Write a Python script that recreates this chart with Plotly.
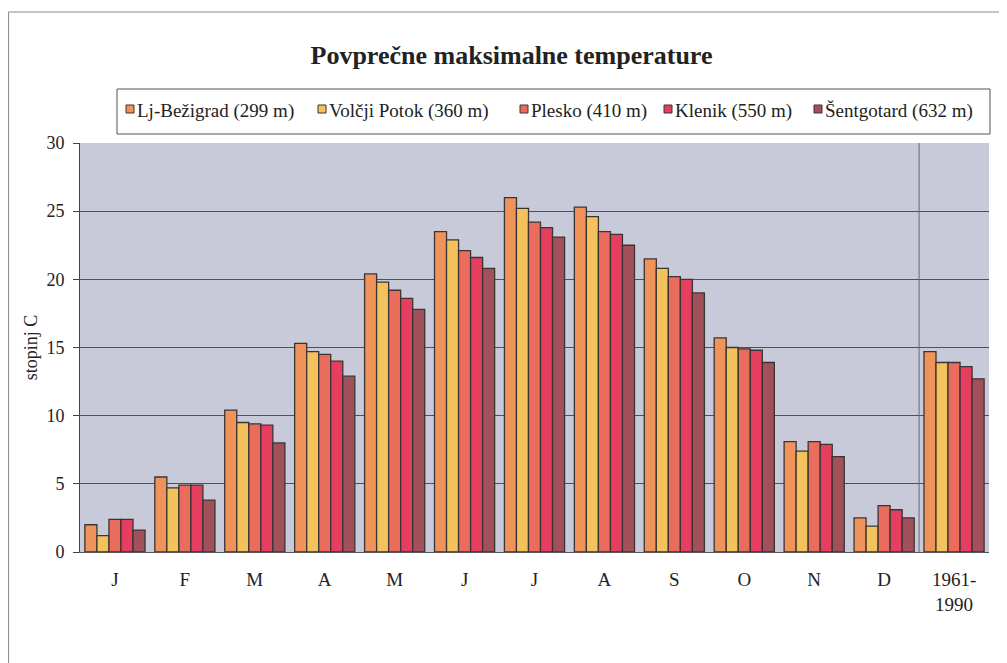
import plotly.graph_objects as go

months = ["J", "F", "M", "A", "M ", "J ", "J  ", "A ", "S", "O", "N", "D", "1961-1990"]
month_labels = ["J", "F", "M", "A", "M", "J", "J", "A", "S", "O", "N", "D", "1961-<br>1990"]

stations = [
    "Lj-Bežigrad (299 m)",
    "Volčji Potok (360 m)",
    "Plesko (410 m)",
    "Klenik (550 m)",
    "Šentgotard (632 m)",
]

lj_bezigrad = [2.0, 5.5, 10.4, 15.3, 20.4, 23.5, 26.0, 25.3, 21.5, 15.7, 8.1, 2.5, 14.7]
volcji_potok = [1.2, 4.7, 9.5, 14.7, 19.8, 22.9, 25.2, 24.6, 20.8, 15.0, 7.4, 1.9, 13.9]
plesko = [2.4, 4.9, 9.4, 14.5, 19.2, 22.1, 24.2, 23.5, 20.2, 14.9, 8.1, 3.4, 13.9]
klenik = [2.4, 4.9, 9.3, 14.0, 18.6, 21.6, 23.8, 23.3, 20.0, 14.8, 7.9, 3.1, 13.6]
sentgotard = [1.6, 3.8, 8.0, 12.9, 17.8, 20.8, 23.1, 22.5, 19.0, 13.9, 7.0, 2.5, 12.7]

series = [lj_bezigrad, volcji_potok, plesko, klenik, sentgotard]
colors = ["#F0935A", "#F3C25C", "#E96C5C", "#E63E5E", "#A2505A"]

serif = "Liberation Serif, Times New Roman, serif"
outline = "#3a3434"

# plot area in figure pixels (page adds 8px body margin)
ML, MR, MT, MB = 72, 26, 135, 119
W, H = 1007, 663
PW, PH = W - ML - MR, H - MT - MB


def px(x):  # screen x -> paper
    return (x - 8 - ML) / PW


def py(y):  # screen y -> paper
    return (H - MB + 8 - y) / PH


fig = go.Figure()
for name, vals, col in zip(stations, series, colors):
    fig.add_trace(go.Bar(
        x=months, y=vals, name=name, showlegend=False,
        marker=dict(color=col, line=dict(color=outline, width=1.3)),
    ))

shapes = [
    # separator between months and the 1961-1990 average
    dict(type="line", xref="x", yref="y", x0=11.5, x1=11.5, y0=-0.7, y1=30,
         line=dict(color="#6a6a78", width=1)),
    # outer frame
    dict(type="rect", xref="paper", yref="paper", x0=-0.0786, x1=1.06, y0=-0.4, y1=py(12),
         line=dict(color="#8a8a8a", width=1), layer="below"),
    # legend box
    dict(type="rect", xref="paper", yref="paper", x0=px(117), x1=px(990), y0=py(134), y1=py(89),
         line=dict(color="#555555", width=1), fillcolor="white"),
]
annotations = []

# hand-drawn legend, Excel style: small square right before the text
legend_x = [126, 318, 520, 664, 814]
for name, col, lx in zip(stations, colors, legend_x):
    shapes.append(dict(type="rect", xref="paper", yref="paper",
                       x0=px(lx), x1=px(lx + 8), y0=py(113), y1=py(105),
                       fillcolor=col, line=dict(color=outline, width=1)))
    annotations.append(dict(text=name, xref="paper", yref="paper", x=px(lx + 9), y=py(111),
                            xanchor="left", yanchor="middle", showarrow=False,
                            font=dict(family=serif, size=19, color="#222222")))

fig.update_layout(
    width=W, height=H,
    margin=dict(l=ML, r=MR, t=MT, b=MB),
    paper_bgcolor="white",
    plot_bgcolor="#C8CADA",
    barmode="group", bargap=0.14, bargroupgap=0,
    font=dict(family=serif, color="#222222", size=18),
    title=dict(text="<b>Povprečne maksimalne temperature</b>", x=0.5, xanchor="center",
               y=1 - 47 / H, yanchor="middle", font=dict(family=serif, size=26, color="#222222")),
    shapes=shapes,
    annotations=annotations,
)
fig.update_xaxes(tickmode="array", tickvals=months, ticktext=month_labels,
                 showline=True, linecolor="#555560", linewidth=1, ticks="",
                 tickfont=dict(size=19), ticklabelstandoff=10, showgrid=False)
fig.update_yaxes(range=[0, 30], dtick=5, showgrid=True, gridcolor="#50505a", gridwidth=1.2,
                 showline=True, linecolor="#444", linewidth=1, ticks="outside", ticklen=6,
                 tickcolor="#444", tickfont=dict(size=18), ticklabelstandoff=5, zeroline=False,
                 title=dict(text="stopinj C", font=dict(size=18), standoff=4))

fig.write_html("out.html")
